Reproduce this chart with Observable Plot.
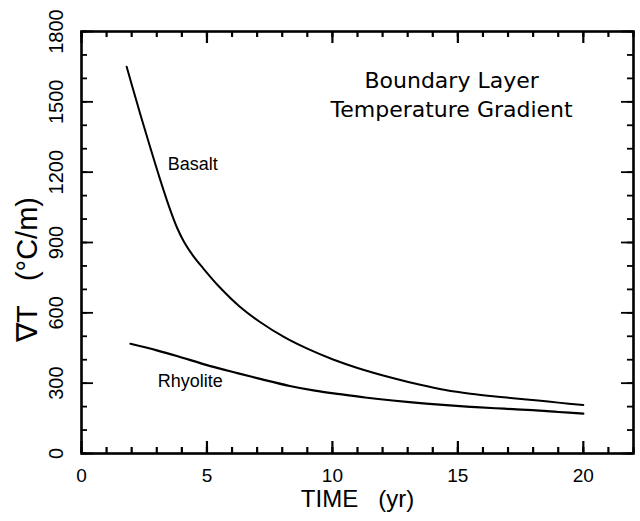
<!DOCTYPE html>
<html>
<head>
<meta charset="utf-8">
<script src="https://cdn.jsdelivr.net/npm/d3@7"></script>
<script src="https://cdn.jsdelivr.net/npm/@observablehq/plot@0.6"></script>
<style>
  html, body { margin: 0; padding: 0; background: #fff; }
</style>
</head>
<body>
<div id="chart"></div>
<script>
// ---- data ----
const basaltTime = [1.8, 2.2, 2.6, 3.1, 3.5, 3.8, 4.1, 4.45, 4.85, 5.5, 6.3, 7.1, 8.1, 9.0, 10.0, 11.0, 12.4, 13.5, 14.5, 15.5, 16.5, 17.2, 18.2, 19.0, 20.0];
const basaltGrad = [1650, 1500, 1355, 1180, 1050, 965, 900, 843, 790, 710, 627, 562, 495, 447, 402, 365, 322, 293, 271, 255, 243, 236, 226, 217, 207];
const rhyoliteTime = [1.95, 3.0, 3.8, 5.1, 6.25, 7.2, 8.3, 9.3, 10.3, 11.3, 12.4, 13.4, 14.4, 15.5, 16.5, 17.2, 18.25, 19.0, 20.0];
const rhyoliteGrad = [468, 440, 416, 374, 342, 316, 288, 268, 253, 239, 226, 216, 207, 199, 193, 189, 183, 177, 170];

const xMajorTicks = [0, 5, 10, 15, 20];
const xMinorTicks = d3.range(0, 23, 1);
const yMajorTicks = [0, 300, 600, 900, 1200, 1500, 1800];
const yMinorTicks = d3.range(0, 1900, 100);

const seriesLabels = [
  {name: "Basalt", t: 4.43, v: 1232},
  {name: "Rhyolite", t: 4.33, v: 310}
];
const titleLines = ["Boundary Layer", "Temperature Gradient"];
const xTitle = "TIME\u00a0\u00a0\u00a0(yr)";
const yTitle = "\u2207T\u00a0\u00a0\u00a0(\u00b0C/m)";

const basalt = basaltTime.map((t, i) => ({t, v: basaltGrad[i]}));
const rhyolite = rhyoliteTime.map((t, i) => ({t, v: rhyoliteGrad[i]}));

// ---- layout ----
const W = 640, H = 521;
const mL = 81, mR = 7, mT = 31, mB = 68;
const xDomain = [0, 22], yDomain = [0, 1800];
const frameW = W - mL - mR, frameH = H - mT - mB;
const pxX = (xDomain[1] - xDomain[0]) / frameW;   // data units per pixel
const pxY = (yDomain[1] - yDomain[0]) / frameH;
const sans = "'Liberation Sans', Arial, Helvetica, sans-serif";

// inward-pointing ticks on all four sides (lengths in pixels converted to data units)
const tickMarks = [];
for (const [size, xt, yt] of [[6, xMinorTicks, yMinorTicks], [12, xMajorTicks, yMajorTicks]]) {
  const sx = {stroke: "black", strokeWidth: 2.2};
  const sy = {stroke: "black", strokeWidth: 1.8};
  tickMarks.push(Plot.ruleX(xt, {x: d => d, y1: yDomain[0], y2: yDomain[0] + size * pxY, ...sx}));
  tickMarks.push(Plot.ruleX(xt, {x: d => d, y1: yDomain[1], y2: yDomain[1] - size * pxY, ...sx}));
  tickMarks.push(Plot.ruleY(yt, {y: d => d, x1: xDomain[0], x2: xDomain[0] + size * pxX, ...sy}));
  tickMarks.push(Plot.ruleY(yt, {y: d => d, x1: xDomain[1], x2: xDomain[1] - size * pxX, ...sy}));
}

const chart = Plot.plot({
  width: W,
  height: H,
  marginLeft: mL,
  marginRight: mR,
  marginTop: mT,
  marginBottom: mB,
  style: {fontFamily: sans},
  x: {domain: xDomain, label: null},
  y: {domain: yDomain, label: null},
  marks: [
    Plot.axisX({anchor: "bottom", ticks: xMajorTicks, tickSize: 0, tickPadding: 15, fontSize: 19, label: null}),
    Plot.axisY({anchor: "left", ticks: yMajorTicks, tickSize: 0, tickRotate: -90, tickPadding: 19, fontSize: 20, tickFormat: d3.format("d"), label: null}),
    ...tickMarks,
    Plot.frame({stroke: "black", strokeWidth: 2.6}),
    Plot.line(basalt, {x: "t", y: "v", stroke: "black", strokeWidth: 2, curve: "catmull-rom"}),
    Plot.line(rhyolite, {x: "t", y: "v", stroke: "black", strokeWidth: 2.2, curve: "catmull-rom"}),
    Plot.text(seriesLabels, {x: "t", y: "v", text: "name", fontSize: 18, fill: "black", fontFamily: sans}),
    Plot.text([titleLines.join("\n")], {x: () => 14.75, y: () => 1535, text: d => d, fontSize: 22, lineHeight: 1.3, fill: "black", fontFamily: "'DejaVu Sans', sans-serif"}),
    Plot.text([xTitle], {frameAnchor: "bottom", text: d => d, dy: 53, fontSize: 24, fill: "black", fontFamily: sans}),
    Plot.text([yTitle], {frameAnchor: "left", textAnchor: "middle", text: d => d, dx: -54, dy: 27, rotate: -90, fontSize: 29, fill: "black", fontFamily: sans})
  ]
});
document.getElementById("chart").appendChild(chart);
</script>
</body>
</html>
